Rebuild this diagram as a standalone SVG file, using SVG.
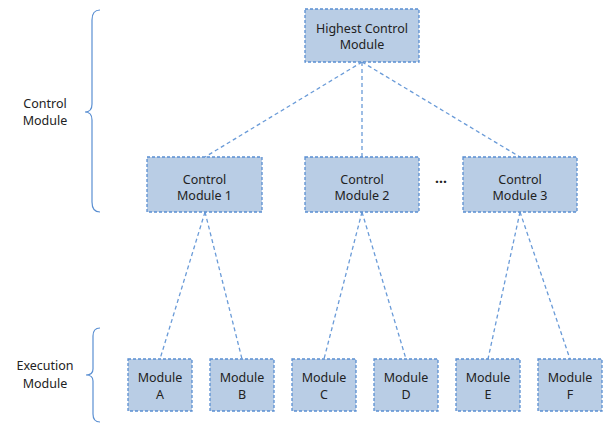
<svg xmlns="http://www.w3.org/2000/svg" width="604" height="425" viewBox="0 0 604 425">
<style>
.box{fill:#b9cde5;stroke:#5a8fd2;stroke-width:1.3;stroke-dasharray:3 2}
.con{stroke:#6a9bd8;stroke-width:1.3;stroke-dasharray:4 3;fill:none}
.br{stroke:#5a8fd2;stroke-width:1.2;fill:none}
text{font-family:"Noto Sans","Open Sans",sans-serif;font-size:12.5px;fill:#222;text-anchor:middle}
</style>
<rect width="604" height="425" fill="#fff"/>
<g id="connectors">
<line class="con" x1="362" y1="62" x2="205" y2="157"/>
<line class="con" x1="362" y1="62" x2="362" y2="157"/>
<line class="con" x1="362" y1="62" x2="520" y2="157"/>
<line class="con" x1="205" y1="212" x2="160" y2="359"/>
<line class="con" x1="205" y1="212" x2="242" y2="359"/>
<line class="con" x1="362" y1="212" x2="324" y2="359"/>
<line class="con" x1="362" y1="212" x2="406" y2="359"/>
<line class="con" x1="520" y1="212" x2="488" y2="359"/>
<line class="con" x1="520" y1="212" x2="570" y2="359"/>
</g>
<g id="brace-control">
<path class="br" d="M100,10 Q92,10 92,20 L92,104 Q92,112 85,112 Q92,112 92,120 L92,202 Q92,212 100,212"/>
<text x="45" y="108">Control</text>
<text x="45" y="125">Module</text>
</g>
<g id="brace-execution">
<path class="br" d="M100,328 Q93,328 93,336 L93,369 Q93,375 86,375 Q93,375 93,381 L93,414 Q93,422 100,422"/>
<text x="45" y="370">Execution</text>
<text x="45" y="388">Module</text>
</g>
<g id="highest">
<rect class="box" x="305" y="9" width="114" height="53"/>
<text x="362" y="33">Highest Control</text>
<text x="362" y="49">Module</text>
</g>
<g id="cm1">
<rect class="box" x="147" y="157" width="115" height="55"/>
<text x="204.5" y="184">Control</text>
<text x="204.5" y="200">Module 1</text>
</g>
<g id="cm2">
<rect class="box" x="305" y="157" width="114" height="55"/>
<text x="362" y="184">Control</text>
<text x="362" y="200">Module 2</text>
</g>
<g id="ellipsis">
<text x="441" y="187" style="font-weight:bold;font-size:14px">···</text>
</g>
<g id="cm3">
<rect class="box" x="463" y="157" width="114" height="55"/>
<text x="520" y="184">Control</text>
<text x="520" y="200">Module 3</text>
</g>
<g id="modA"><rect class="box" x="128" y="359" width="64" height="52"/><text x="160" y="382">Module</text><text x="160" y="399">A</text></g>
<g id="modB"><rect class="box" x="210" y="359" width="64" height="52"/><text x="242" y="382">Module</text><text x="242" y="399">B</text></g>
<g id="modC"><rect class="box" x="292" y="359" width="64" height="52"/><text x="324" y="382">Module</text><text x="324" y="399">C</text></g>
<g id="modD"><rect class="box" x="374" y="359" width="64" height="52"/><text x="406" y="382">Module</text><text x="406" y="399">D</text></g>
<g id="modE"><rect class="box" x="456" y="359" width="64" height="52"/><text x="488" y="382">Module</text><text x="488" y="399">E</text></g>
<g id="modF"><rect class="box" x="538" y="359" width="64" height="52"/><text x="570" y="382">Module</text><text x="570" y="399">F</text></g>
</svg>
